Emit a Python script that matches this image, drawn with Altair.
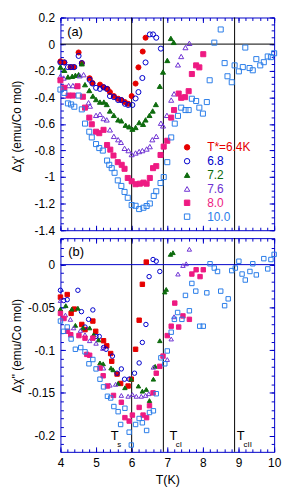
import altair as alt
import pandas as pd
import numpy as np

SERIES = ["T*=6.4K", "6.8", "7.2", "7.6", "8.0", "10.0"]
COLORS = ["#e60000", "#0000cc", "#0d6b0d", "#6e32d2", "#ee1a82", "#2b7de9"]
FILLS = ["#e60000", "transparent", "#0d6b0d", "transparent", "#ee1a82", "transparent"]
SHAPES_TOP = ["circle", "circle", "triangle-up", "triangle-up", "square", "square"]
SHAPES_BOT = ["square", "circle", "triangle-up", "triangle-up", "square", "square"]
BLUE = "#0000c8"

# ---------------- panel (a): chi' ----------------
A64_x = [4.0,4.11,4.28,4.37,4.51,4.60,4.82,4.90,5.11,5.21,5.32,5.39,5.50,5.62,5.71,5.81,5.90,6.00,6.11,6.19,6.31,6.39]
A64_y = [-0.130,-0.138,-0.173,-0.173,-0.063,-0.143,-0.257,-0.292,-0.305,-0.324,-0.337,-0.361,-0.391,-0.411,-0.421,-0.436,-0.449,-0.391,-0.297,-0.175,-0.056,0.048]
A68_x = [4.0,4.11,4.21,4.30,4.39,4.51,4.60,4.82,4.90,5.0,5.11,5.21,5.30,5.39,5.50,5.62,5.71,5.81,5.90,6.02,6.11,6.19,6.30,6.39,6.51,6.60,6.69,6.82]
A68_y = [-0.138,-0.138,-0.173,-0.173,-0.173,-0.089,-0.143,-0.268,-0.297,-0.329,-0.337,-0.324,-0.337,-0.391,-0.399,-0.421,-0.421,-0.449,-0.458,-0.458,-0.409,-0.361,-0.255,-0.138,0.073,0.073,0.048,-0.034]
A72_x = [4.0,4.11,4.21,4.33,4.42,4.51,4.60,4.69,4.81,4.91,5.0,5.11,5.22,5.30,5.39,5.50,5.62,5.71,5.83,5.93,6.02,6.11,6.21,6.32,6.39,6.50,6.59,6.68,6.79,6.88,7.0,7.10,7.18]
A72_y = [-0.173,-0.197,-0.247,-0.242,-0.235,-0.230,-0.148,-0.305,-0.349,-0.391,-0.417,-0.436,-0.436,-0.454,-0.503,-0.536,-0.570,-0.577,-0.610,-0.622,-0.640,-0.627,-0.590,-0.603,-0.570,-0.536,-0.503,-0.454,-0.317,-0.210,-0.123,0.043,0.013]
A76_x = [4.0,4.09,4.23,4.35,4.46,4.54,4.65,4.79,4.83,5.0,5.11,5.21,5.30,5.39,5.50,5.62,5.70,5.80,5.91,6.0,6.11,6.21,6.30,6.42,6.51,6.58,6.69,6.82,6.88,6.99,7.11,7.19,7.30,7.39,7.51,7.62]
A76_y = [-0.242,-0.255,-0.312,-0.312,-0.317,-0.238,-0.230,-0.441,-0.466,-0.536,-0.528,-0.560,-0.570,-0.645,-0.694,-0.719,-0.739,-0.784,-0.801,-0.831,-0.819,-0.808,-0.801,-0.789,-0.771,-0.719,-0.694,-0.595,-0.615,-0.536,-0.421,-0.374,-0.156,-0.093,-0.026,0.006]
A80_x = [4.0,4.11,4.23,4.35,4.48,4.63,4.69,4.81,4.88,5.0,5.09,5.21,5.31,5.40,5.49,5.61,5.72,5.80,5.89,6.0,6.11,6.23,6.33,6.42,6.51,6.60,6.69,6.81,6.90,7.0,7.11,7.19,7.32,7.39,7.50,7.60,7.69,7.81,7.90,8.01]
A80_y = [-0.272,-0.329,-0.387,-0.387,-0.317,-0.396,-0.478,-0.553,-0.603,-0.659,-0.670,-0.645,-0.759,-0.794,-0.838,-0.888,-0.908,-0.938,-1.007,-1.032,-1.054,-1.050,-1.042,-1.050,-1.007,-0.933,-0.918,-0.834,-0.771,-0.727,-0.553,-0.496,-0.372,-0.404,-0.399,-0.354,-0.225,-0.160,-0.175,-0.076]
A100_x = [4.0,4.11,4.21,4.30,4.39,4.51,4.60,4.69,4.81,4.88,5.0,5.09,5.19,5.31,5.37,5.44,5.52,5.61,5.71,5.80,5.89,6.0,6.11,6.21,6.33,6.42,6.51,6.62,6.69,6.81,6.90,7.0,7.11,7.21,7.30,7.39,7.51,7.60,7.69,7.81,7.90,8.0,8.11,8.19,8.32,8.50,8.61,8.69,8.81,8.89,9.01,9.12,9.19,9.31,9.40,9.50,9.61,9.71,9.82,9.91,10.0]
A100_y = [-0.342,-0.367,-0.446,-0.454,-0.471,-0.387,-0.491,-0.598,-0.659,-0.702,-0.752,-0.782,-0.801,-0.876,-0.908,-0.933,-0.968,-1.025,-1.067,-1.112,-1.156,-1.211,-1.216,-1.241,-1.231,-1.218,-1.199,-1.142,-1.107,-1.045,-1.0,-0.888,-0.702,-0.598,-0.540,-0.478,-0.496,-0.496,-0.411,-0.428,-0.478,-0.523,-0.436,-0.272,0.011,0.110,-0.143,-0.242,-0.287,-0.160,-0.205,-0.173,-0.026,-0.180,-0.197,-0.113,-0.160,-0.136,-0.093,-0.098,-0.069]

# ---------------- panel (b): chi'' ----------------
B64_x = [4.0,4.19,4.30,4.39,4.60,4.69,4.91,4.99,5.21,5.30,5.41,5.44,5.59,5.69,5.90,5.99,6.11,6.21,6.30,6.41]
B64_y = [-0.038,-0.035,-0.057,-0.052,-0.070,-0.076,-0.066,-0.078,-0.089,-0.095,-0.104,-0.113,-0.128,-0.139,-0.142,-0.134,-0.099,-0.065,-0.023,0.003]
B68_x = [4.0,4.09,4.19,4.49,4.59,4.69,4.79,4.91,5.0,5.09,5.21,5.28,5.46,5.59,5.71,5.80,5.93,6.08,6.21,6.30,6.40,6.49,6.60,6.69,6.79]
B68_y = [-0.030,-0.042,-0.041,-0.030,-0.055,-0.073,-0.064,-0.053,-0.084,-0.084,-0.097,-0.099,-0.107,-0.127,-0.122,-0.134,-0.134,-0.127,-0.115,-0.091,-0.070,-0.014,0.006,0.004,-0.008]
B72_x = [4.0,4.15,4.32,4.42,4.49,4.63,4.82,4.93,5.07,5.11,5.20,5.42,5.48,5.62,5.81,5.99,6.19,6.30,6.41,6.50,6.61,6.66,6.79,6.93,6.97,7.09,7.16]
B72_y = [-0.052,-0.048,-0.052,-0.071,-0.051,-0.074,-0.074,-0.082,-0.088,-0.115,-0.116,-0.121,-0.123,-0.139,-0.144,-0.134,-0.142,-0.148,-0.146,-0.159,-0.134,-0.119,-0.089,-0.032,-0.029,0.012,0.014]
B76_x = [4.0,4.14,4.28,4.37,4.56,4.69,4.82,5.0,5.19,5.21,5.39,5.55,5.71,5.90,6.02,6.13,6.27,6.39,6.48,6.61,7.0,7.11,7.19,7.30,7.44,7.53,7.62]
B76_y = [-0.042,-0.059,-0.064,-0.074,-0.077,-0.082,-0.089,-0.092,-0.098,-0.121,-0.141,-0.140,-0.153,-0.154,-0.152,-0.154,-0.154,-0.153,-0.151,-0.120,-0.111,-0.087,-0.061,-0.011,-0.001,0.001,0.018]
B80_x = [4.0,4.10,4.20,4.29,4.52,4.69,4.74,4.82,4.91,5.11,5.20,5.32,5.49,5.71,5.81,5.93,6.02,6.21,6.32,6.42,6.50,6.60,6.69,6.79,6.88,7.0,7.11,7.21,7.32,7.44,7.62,7.69,7.81,7.92,8.01]
B80_y = [-0.057,-0.063,-0.078,-0.082,-0.083,-0.086,-0.105,-0.106,-0.086,-0.121,-0.130,-0.142,-0.153,-0.161,-0.179,-0.183,-0.176,-0.167,-0.176,-0.179,-0.165,-0.150,-0.127,-0.119,-0.107,-0.083,-0.072,-0.045,-0.073,-0.060,-0.064,-0.011,-0.006,-0.014,-0.006]
B100_x = [4.0,4.09,4.19,4.30,4.42,4.57,4.69,4.80,4.91,5.0,5.11,5.21,5.32,5.41,5.50,5.62,5.69,5.81,5.93,5.99,6.11,6.21,6.30,6.42,6.50,6.61,6.69,6.82,6.93,7.0,7.11,7.20,7.29,7.41,7.51,7.62,7.69,7.80,7.91,8.01,8.11,8.20,8.32,8.41,8.50,8.61,8.71,8.81,8.91,9.01,9.10,9.19,9.32,9.40,9.50,9.71,9.82,9.91,10.0]
B100_y = [-0.066,-0.078,-0.073,-0.087,-0.099,-0.097,-0.102,-0.116,-0.111,-0.122,-0.134,-0.143,-0.154,-0.156,-0.166,-0.172,-0.187,-0.168,-0.196,-0.211,-0.187,-0.180,-0.185,-0.194,-0.173,-0.171,-0.151,-0.109,-0.116,-0.101,-0.079,-0.064,-0.056,-0.064,-0.036,-0.054,-0.022,-0.031,-0.072,-0.072,-0.033,0.001,-0.004,-0.008,-0.031,-0.048,-0.040,-0.007,-0.004,0.004,-0.011,-0.018,-0.008,0.001,-0.012,0.007,-0.005,0.006,0.012]

# transition temperatures (vertical lines) and annotations
T_LINES = [6.0, 6.89, 8.89]
T_LABEL_X = [5.525, 7.17, 9.06]
SUB_LABEL_X = [5.65, 7.325, 9.26]
SUB_TEXT = ["s", "cI", "cII"]
TITLE_A = "Δχ' (emu/Co mol)"
TITLE_B = "Δχ'' (emu/Co mol)"
TITLE_A_Y = -0.62      # vertical centre of the y title, data units of panel (a)
TITLE_B_Y = -0.095     # vertical centre of the y title, data units of panel (b)

# legend (drawn inside panel a, in data units)
LEG_SYM_X = 7.556
LEG_TXT_X = 8.12
LEG_Y = [-0.7765, -0.8808, -0.9851, -1.0894, -1.1937, -1.298]

X_MAJOR = [4, 5, 6, 7, 8, 9, 10]
X_MINOR = [round(v, 2) for v in np.arange(4.0, 10.001, 0.2)]
YA_MAJOR = [0.2, 0, -0.2, -0.4, -0.6, -0.8, -1, -1.2, -1.4]
YA_MINOR = [round(v, 3) for v in np.arange(-1.4, 0.2001, 0.05)]
YB_MAJOR = [0, -0.05, -0.1, -0.15, -0.2]
YB_MINOR = [round(v, 3) for v in np.arange(-0.21, 0.0301, 0.01)]

W = 216
H_TOP = 215
H_BOT = 216


def build(xs_list, ys_list):
    frames = []
    for name, xv, yv in zip(SERIES, xs_list, ys_list):
        frames.append(pd.DataFrame({"x": xv, "y": yv, "series": name}))
    return pd.concat(frames, ignore_index=True)


df_a = build([A64_x, A68_x, A72_x, A76_x, A80_x, A100_x], [A64_y, A68_y, A72_y, A76_y, A80_y, A100_y])
df_b = build([B64_x, B68_x, B72_x, B76_x, B80_x, B100_x], [B64_y, B68_y, B72_y, B76_y, B80_y, B100_y])
df_leg = pd.DataFrame({"series": SERIES, "y": LEG_Y, "xs": LEG_SYM_X, "xt": LEG_TXT_X})

xs = alt.Scale(domain=[4, 10], nice=False, zero=False)
ys_a = alt.Scale(domain=[-1.4, 0.2], nice=False, zero=False)
ys_b = alt.Scale(domain=[-0.219, 0.031], nice=False, zero=False)


def tick_axis(orient, offset, values, size):
    return alt.Axis(orient=orient, offset=offset, values=values, tickSize=size,
                    tickColor=BLUE, tickWidth=1, labels=False, domain=False,
                    grid=False, title=None)


def tick_layers(df, ys, H, ymaj, ymin):
    out = []
    for xv, yv, size in [(X_MAJOR, ymaj, 5), (X_MINOR, ymin, 3)]:
        out.append(alt.Chart(df).mark_point(opacity=0).encode(
            x=alt.X("x:Q", scale=xs, axis=tick_axis("top", -H, xv, size)),
            y=alt.Y("y:Q", scale=ys, axis=tick_axis("right", -W, yv, size))))
        out.append(alt.Chart(df).mark_point(opacity=0).encode(
            x=alt.X("x:Q", scale=xs, axis=tick_axis("bottom", -H, xv, size)),
            y=alt.Y("y:Q", scale=ys, axis=tick_axis("left", -W, yv, size))))
    return out


def label_y_axis(values):
    return alt.Axis(orient="left", values=values, ticks=False, domain=False, grid=False,
                    labels=True, labelPadding=6, labelFontSize=12, labelColor="black",
                    labelExpr="toString(datum.value)", labelOverlap=False, labelFlush=False,
                    labelBound=False, title=None)


def y_title(text, ys, yv):
    return alt.Chart(pd.DataFrame({"t": [text], "y": [yv]})).mark_text(
        angle=270, fontSize=12, color="black", align="center", baseline="bottom").encode(
        x=alt.value(-37), y=alt.Y("y:Q", scale=ys, axis=None), text="t:N")


def enc_style(shapes, fills):
    return dict(
        shape=alt.Shape("series:N", scale=alt.Scale(domain=SERIES, range=shapes), legend=None),
        stroke=alt.Stroke("series:N", scale=alt.Scale(domain=SERIES, range=COLORS), legend=None),
        fill=alt.Fill("series:N", scale=alt.Scale(domain=SERIES, range=fills), legend=None),
    )


def points(df, ys, yaxis, xaxis, shapes, size):
    return alt.Chart(df).mark_point(size=size, strokeWidth=1, opacity=1, fillOpacity=1).encode(
        x=alt.X("x:Q", scale=xs, axis=xaxis),
        y=alt.Y("y:Q", scale=ys, axis=yaxis),
        **enc_style(shapes, FILLS),
    )


def vlines(ys):
    return alt.Chart(pd.DataFrame({"x": T_LINES})).mark_rule(color="black", strokeWidth=1).encode(
        x=alt.X("x:Q", scale=xs, axis=None))


def zero_line(ys, color):
    return alt.Chart(pd.DataFrame({"y": [0]})).mark_rule(color=color, strokeWidth=1).encode(
        y=alt.Y("y:Q", scale=ys, axis=None))


def panel_label(ys, text, xv, yv):
    return alt.Chart(pd.DataFrame({"x": [xv], "y": [yv], "t": [text]})).mark_text(
        fontSize=13, color="black", align="center", baseline="middle").encode(
        x=alt.X("x:Q", scale=xs, axis=None), y=alt.Y("y:Q", scale=ys, axis=None), text="t:N")


leg_sym = alt.Chart(df_leg).mark_point(size=30, strokeWidth=1, opacity=1, fillOpacity=1).encode(
    x=alt.X("xs:Q", scale=xs, axis=None),
    y=alt.Y("y:Q", scale=ys_a, axis=None),
    **enc_style(SHAPES_TOP, FILLS),
)
leg_txt = alt.Chart(df_leg).mark_text(fontSize=12, align="left", baseline="middle").encode(
    x=alt.X("xt:Q", scale=xs, axis=None),
    y=alt.Y("y:Q", scale=ys_a, axis=None),
    text="series:N",
    color=alt.Color("series:N", scale=alt.Scale(domain=SERIES, range=COLORS), legend=None),
)

# top panel
top = alt.layer(
    vlines(ys_a),
    zero_line(ys_a, "black"),
    *tick_layers(df_a, ys_a, H_TOP, YA_MAJOR, YA_MINOR),
    panel_label(ys_a, "(a)", 4.41, 0.088),
    points(df_a, ys_a, label_y_axis(YA_MAJOR), None, SHAPES_TOP, 26),
    leg_sym,
    leg_txt,
    y_title(TITLE_A, ys_a, TITLE_A_Y),
).resolve_axis(x="independent", y="independent").properties(width=W, height=H_TOP)

# bottom panel
t_df = pd.DataFrame({"x": T_LABEL_X, "y": [-0.2009] * 3, "t": ["T"] * 3})
s_df = pd.DataFrame({"x": SUB_LABEL_X, "y": [-0.2107] * 3, "t": SUB_TEXT})
t_text = alt.Chart(t_df).mark_text(fontSize=13, color="black", baseline="middle").encode(
    x=alt.X("x:Q", scale=xs, axis=None), y=alt.Y("y:Q", scale=ys_b, axis=None), text="t:N")
s_text = alt.Chart(s_df).mark_text(fontSize=8, color="black", baseline="middle").encode(
    x=alt.X("x:Q", scale=xs, axis=None), y=alt.Y("y:Q", scale=ys_b, axis=None), text="t:N")

x_label_axis = alt.Axis(orient="bottom", values=X_MAJOR, ticks=False, domain=False, grid=False,
                        labelPadding=6, labelFontSize=12, labelColor="black", labelFlush=False,
                        labelOverlap=False, title="T(K)", titleFontSize=12.5,
                        titleFontWeight="normal", titleColor="black", titlePadding=5)

bot = alt.layer(
    vlines(ys_b),
    zero_line(ys_b, BLUE),
    *tick_layers(df_b, ys_b, H_BOT, YB_MAJOR, YB_MINOR),
    panel_label(ys_b, "(b)", 4.44, 0.0144),
    t_text,
    s_text,
    points(df_b, ys_b, label_y_axis(YB_MAJOR), x_label_axis, SHAPES_BOT, 20),
    y_title(TITLE_B, ys_b, TITLE_B_Y),
).resolve_axis(x="independent", y="independent").properties(width=W, height=H_BOT)

chart = alt.vconcat(top, bot, spacing=0).resolve_scale(
    shape="independent", fill="independent", stroke="independent"
).properties(
    padding={"left": 2, "top": 0, "right": 5, "bottom": 5}
).configure(font="Liberation Sans").configure_view(stroke=BLUE, strokeWidth=1)

chart.save("out.html", embed_options={"renderer": "svg", "actions": False})
